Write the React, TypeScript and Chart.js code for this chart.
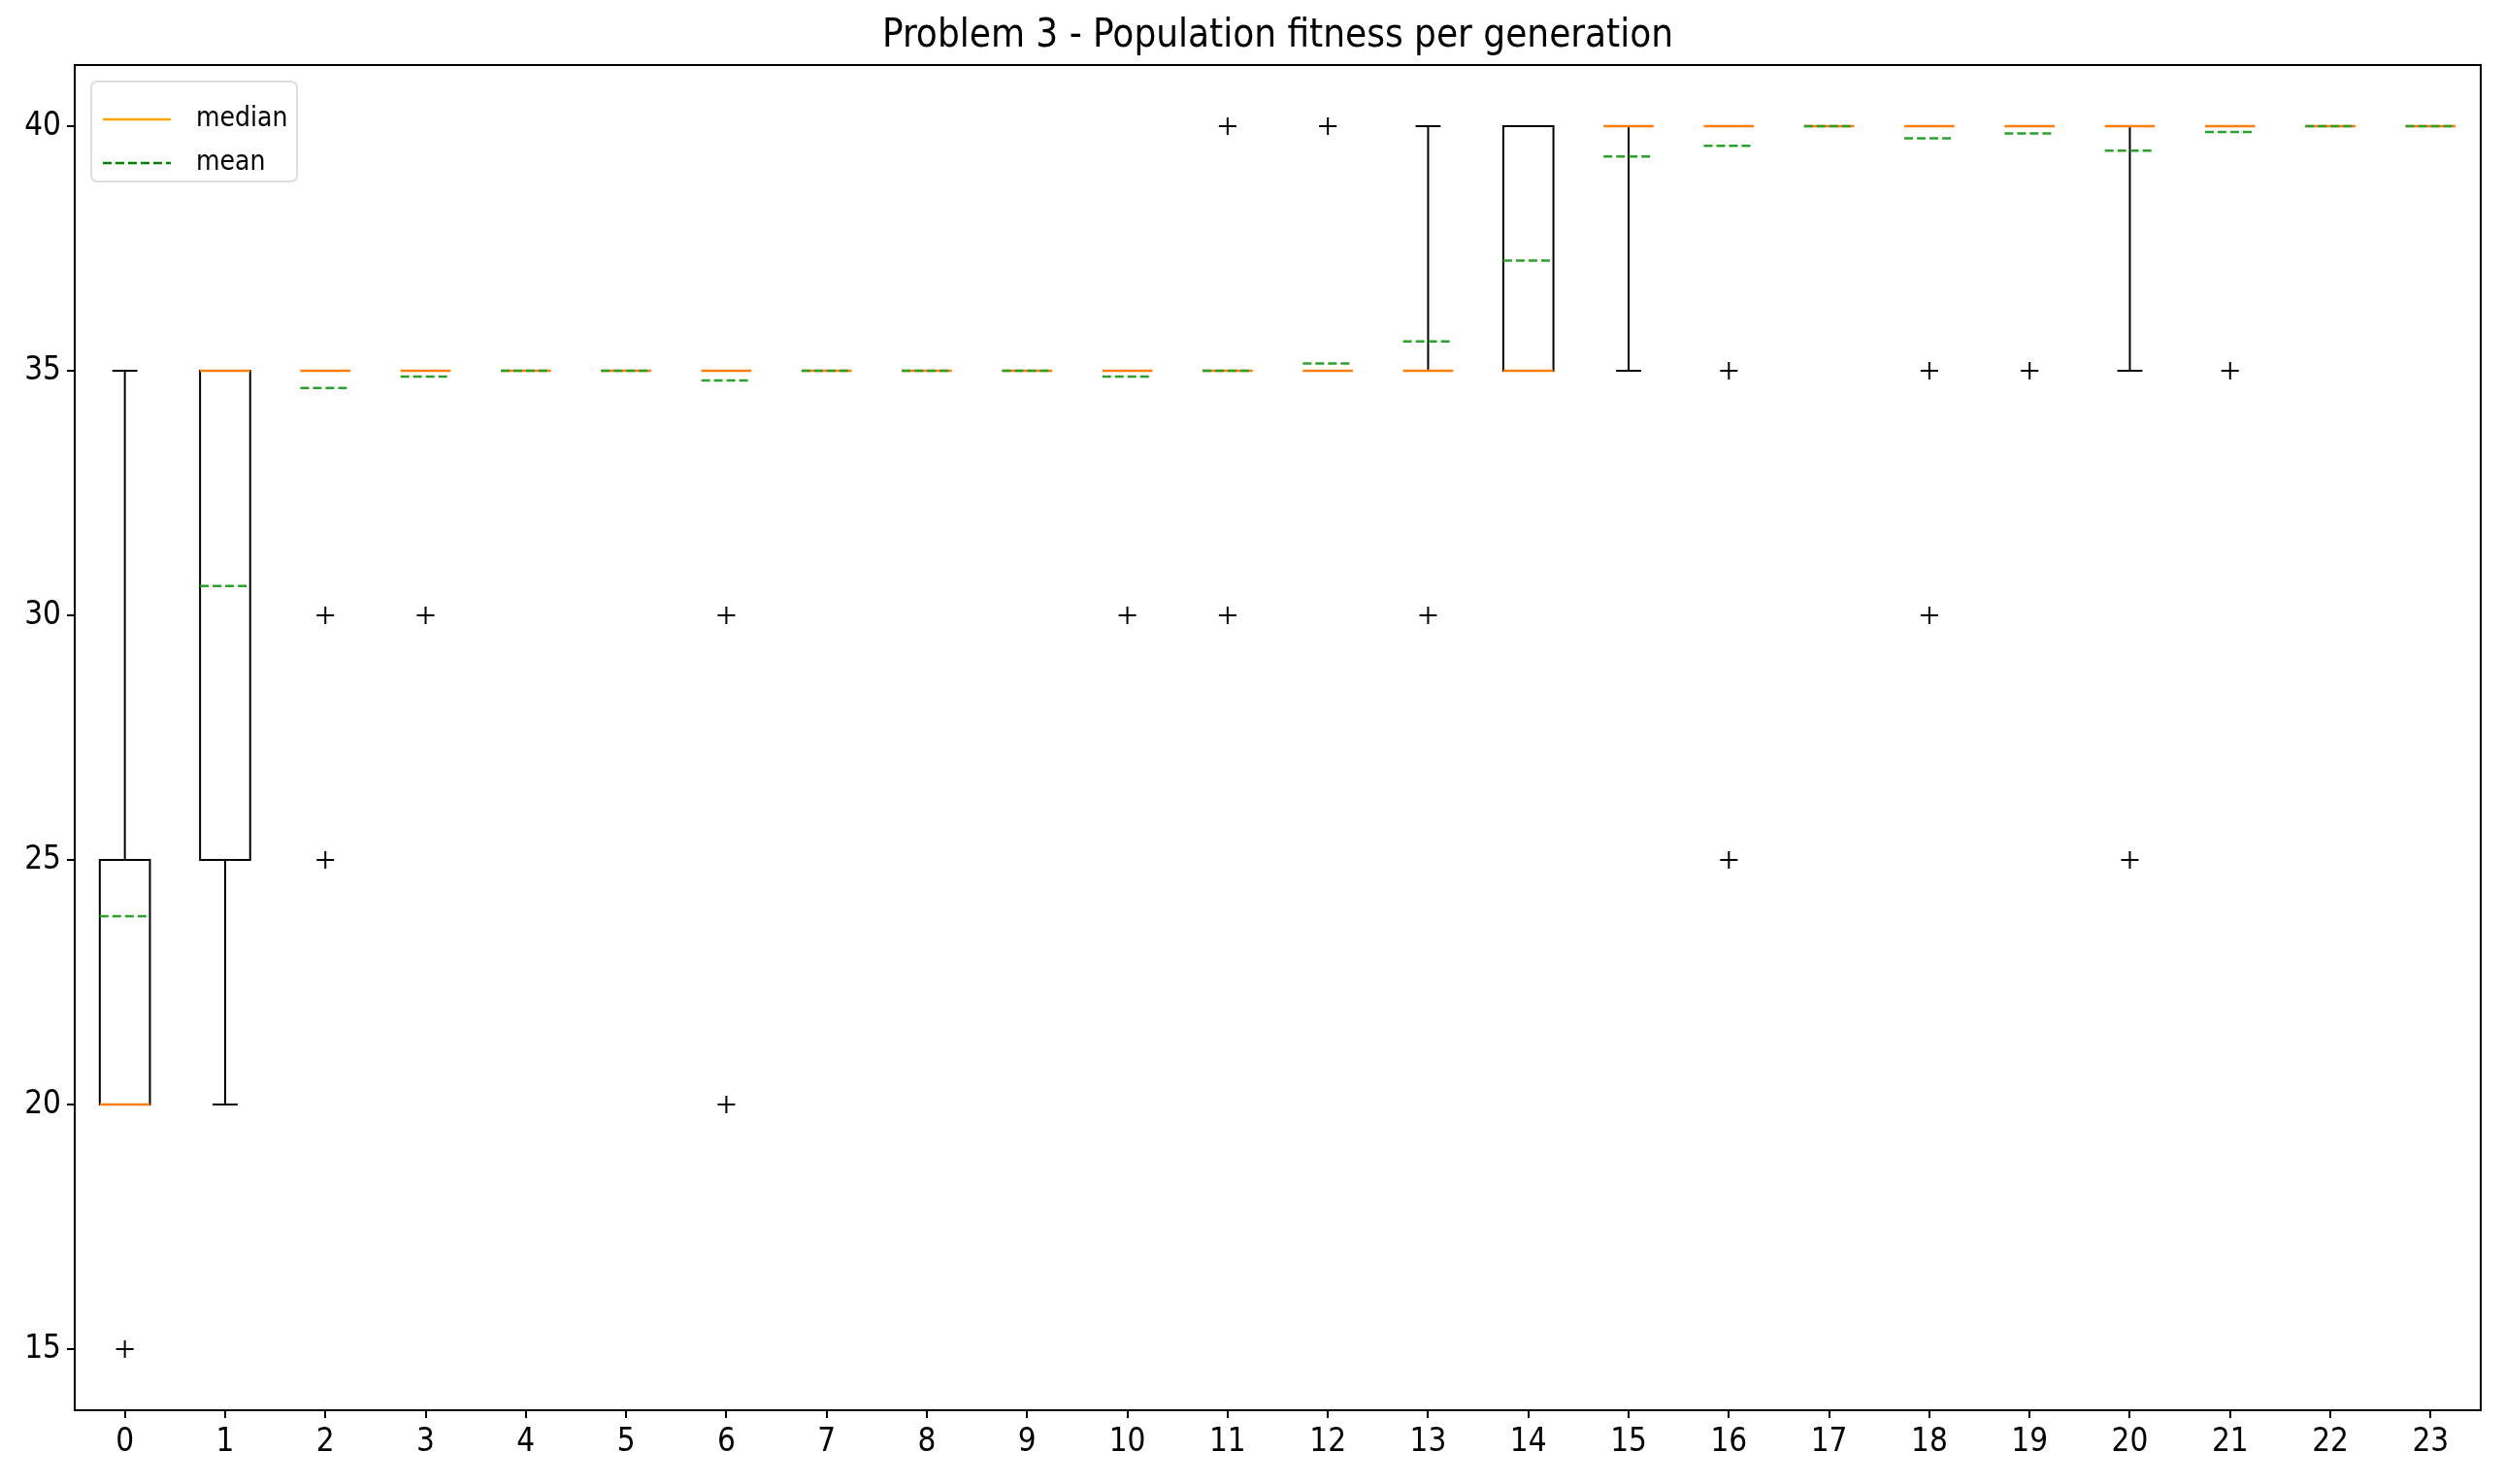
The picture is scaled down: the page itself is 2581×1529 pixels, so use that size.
import { useEffect, useRef } from 'react';
import Chart from 'chart.js/auto';

const generations = Array.from({ length: 24 }, (_, i) => i);
const whiskerLow = [20, 20, 35, 35, 35, 35, 35, 35, 35, 35, 35, 35, 35, 35, 35, 35, 40, 40, 40, 40, 35, 40, 40, 40];
const quartile1 = [20, 25, 35, 35, 35, 35, 35, 35, 35, 35, 35, 35, 35, 35, 35, 40, 40, 40, 40, 40, 40, 40, 40, 40];
const medians = [20, 35, 35, 35, 35, 35, 35, 35, 35, 35, 35, 35, 35, 35, 35, 40, 40, 40, 40, 40, 40, 40, 40, 40];
const quartile3 = [25, 35, 35, 35, 35, 35, 35, 35, 35, 35, 35, 35, 35, 35, 40, 40, 40, 40, 40, 40, 40, 40, 40, 40];
const whiskerHigh = [35, 35, 35, 35, 35, 35, 35, 35, 35, 35, 35, 35, 35, 40, 40, 40, 40, 40, 40, 40, 40, 40, 40, 40];
const means = [23.85, 30.6, 34.65, 34.88, 35, 35, 34.8, 35, 35, 35, 34.88, 35, 35.15, 35.6, 37.25, 39.38, 39.6, 40, 39.75, 39.85, 39.5, 39.88, 40, 40];
const fliers: number[][] = [[15], [], [30, 25], [30], [], [], [30, 20], [], [], [], [30], [40, 30], [40], [30], [], [], [35, 25], [], [35, 30], [35], [25], [35], [], []];
const yTicks = [15, 20, 25, 30, 35, 40];

const FONT = "'Liberation Sans Narrow', 'DejaVu Sans Condensed', 'Liberation Sans', sans-serif";
const TITLE = 'Problem 3 - Population fitness per generation';

const boxPlugin = {
  id: 'boxes',
  afterDatasetsDraw(chart: any) {
    const { ctx, scales, chartArea } = chart;
    const x = scales.x;
    const y = scales.y;
    const half = (x.getPixelForValue(0.25) - x.getPixelForValue(0));
    const cap = half / 2;
    ctx.save();
    generations.forEach((g, i) => {
      const cx = x.getPixelForValue(g);
      ctx.strokeStyle = '#000';
      ctx.lineWidth = 2;
      ctx.setLineDash([]);
      // whiskers
      ctx.beginPath();
      ctx.moveTo(cx, y.getPixelForValue(quartile1[i]));
      ctx.lineTo(cx, y.getPixelForValue(whiskerLow[i]));
      ctx.moveTo(cx, y.getPixelForValue(quartile3[i]));
      ctx.lineTo(cx, y.getPixelForValue(whiskerHigh[i]));
      if (whiskerLow[i] !== quartile1[i]) {
        ctx.moveTo(cx - cap, y.getPixelForValue(whiskerLow[i]));
        ctx.lineTo(cx + cap, y.getPixelForValue(whiskerLow[i]));
      }
      if (whiskerHigh[i] !== quartile3[i]) {
        ctx.moveTo(cx - cap, y.getPixelForValue(whiskerHigh[i]));
        ctx.lineTo(cx + cap, y.getPixelForValue(whiskerHigh[i]));
      }
      ctx.stroke();
      if (quartile3[i] !== quartile1[i]) {
        const top = y.getPixelForValue(quartile3[i]);
        const bot = y.getPixelForValue(quartile1[i]);
        ctx.strokeRect(cx - half, top, half * 2, bot - top);
      }
      // median
      ctx.strokeStyle = '#ff7f0e';
      ctx.lineWidth = 2.5;
      ctx.beginPath();
      ctx.moveTo(cx - half, y.getPixelForValue(medians[i]));
      ctx.lineTo(cx + half, y.getPixelForValue(medians[i]));
      ctx.stroke();
      // mean
      ctx.strokeStyle = '#2ca02c';
      ctx.lineWidth = 2.5;
      ctx.setLineDash([9, 4]);
      ctx.beginPath();
      ctx.moveTo(cx - half, y.getPixelForValue(means[i]));
      ctx.lineTo(cx + half, y.getPixelForValue(means[i]));
      ctx.stroke();
    });
    ctx.setLineDash([]);
    // frame
    ctx.strokeStyle = '#000';
    ctx.lineWidth = 2;
    ctx.strokeRect(chartArea.left, chartArea.top, chartArea.right - chartArea.left, chartArea.bottom - chartArea.top);
    // title
    ctx.fillStyle = '#000';
    ctx.font = `40px ${FONT}`;
    ctx.textAlign = 'center';
    ctx.textBaseline = 'middle';
    ctx.fillText(TITLE, (chartArea.left + chartArea.right) / 2, 30);
    // legend
    const lx = chartArea.left + 17;
    const ly = chartArea.top + 17;
    ctx.strokeStyle = '#ddd';
    ctx.lineWidth = 2;
    ctx.fillStyle = 'rgba(255,255,255,0.8)';
    ctx.beginPath();
    ctx.roundRect(lx, ly, 212, 103, 6);
    ctx.fill();
    ctx.stroke();
    ctx.lineWidth = 2.5;
    ctx.strokeStyle = '#ffa500';
    ctx.beginPath();
    ctx.moveTo(lx + 12, ly + 39);
    ctx.lineTo(lx + 82, ly + 39);
    ctx.stroke();
    ctx.strokeStyle = 'green';
    ctx.setLineDash([9, 4]);
    ctx.beginPath();
    ctx.moveTo(lx + 12, ly + 84);
    ctx.lineTo(lx + 82, ly + 84);
    ctx.stroke();
    ctx.setLineDash([]);
    ctx.fillStyle = '#000';
    ctx.font = `28px ${FONT}`;
    ctx.textAlign = 'left';
    ctx.fillText('median', lx + 108, ly + 39);
    ctx.fillText('mean', lx + 108, ly + 84);
    ctx.restore();
  },
};

export default function App() {
  const chartRef = useRef<HTMLCanvasElement>(null);
  const chartInstance = useRef<Chart | null>(null);

  useEffect(() => {
    if (!chartRef.current) return;
    if (chartInstance.current) chartInstance.current.destroy();

    const flierPoints: { x: number; y: number }[] = [];
    fliers.forEach((list, i) => list.forEach((v) => flierPoints.push({ x: generations[i], y: v })));

    chartInstance.current = new Chart(chartRef.current, {
      type: 'scatter',
      data: {
        datasets: [
          {
            label: 'fliers',
            data: flierPoints,
            pointStyle: 'cross',
            pointRadius: 9,
            borderColor: '#000',
            borderWidth: 2,
          },
        ],
      },
      options: {
        animation: false,
        responsive: true,
        maintainAspectRatio: false,
        layout: { padding: { top: 59, right: 17, left: 0, bottom: 0 } },
        plugins: { legend: { display: false }, tooltip: { enabled: false } },
        scales: {
          x: {
            type: 'linear',
            min: -0.5,
            max: 23.5,
            afterBuildTicks: (s: any) => { s.ticks = generations.map((v) => ({ value: v })); },
            afterFit: (s: any) => { s.height = 68; },
            ticks: { color: '#000', font: { family: FONT, size: 33 }, padding: 6 },
            grid: { drawOnChartArea: false, drawTicks: true, tickLength: 8, color: '#000', lineWidth: 2 },
            border: { display: true, color: '#000', width: 2 },
          },
          y: {
            min: 13.75,
            max: 41.25,
            afterBuildTicks: (s: any) => { s.ticks = yTicks.map((v) => ({ value: v })); },
            afterFit: (s: any) => { s.width = 69; },
            ticks: { color: '#000', font: { family: FONT, size: 33 }, padding: 6 },
            grid: { drawOnChartArea: false, drawTicks: true, tickLength: 8, color: '#000', lineWidth: 2 },
            border: { display: true, color: '#000', width: 2 },
          },
        },
      },
      plugins: [boxPlugin],
    });

    return () => {
      if (chartInstance.current) chartInstance.current.destroy();
    };
  }, []);

  return (
    <div style={{ width: 2565, height: 1513 }}>
      <canvas ref={chartRef}></canvas>
    </div>
  );
}
